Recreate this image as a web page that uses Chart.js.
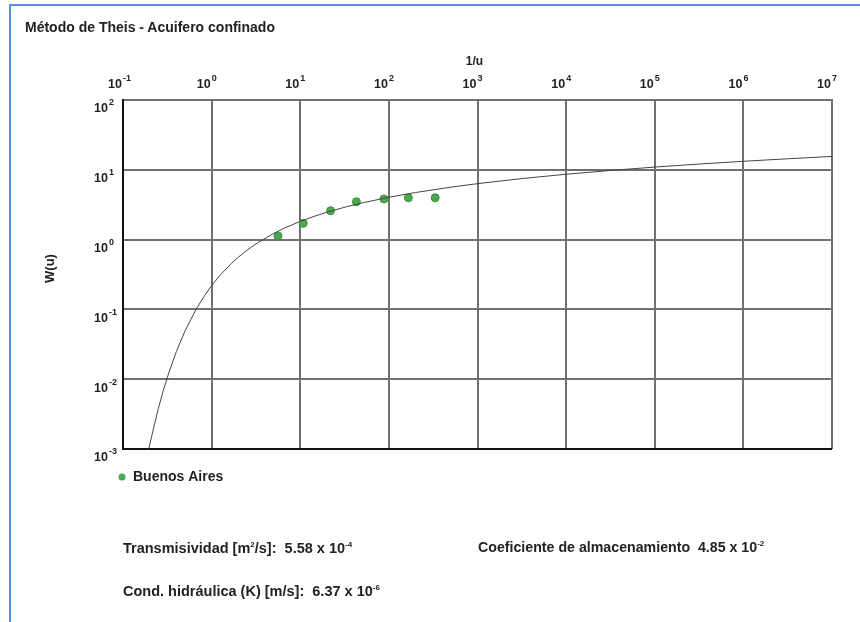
<!DOCTYPE html>
<html>
<head>
<meta charset="utf-8">
<script src="https://cdn.jsdelivr.net/npm/chart.js@4.4.1/dist/chart.umd.min.js"></script>
<style>
  body { margin: 0; width: 860px; height: 622px; position: relative; overflow: hidden; background: #fff;
         font-family: "Liberation Sans", Arial, sans-serif; }
  #frame { position: absolute; left: 9px; top: 4px; right: -10px; bottom: -10px;
           border-top: 2px solid #5b8ee0; border-left: 2px solid #5b8ee0; }
  canvas { position: absolute; left: 0; top: 0; }
  .txt { position: absolute; font-weight: bold; font-size: 14.5px; color: #222; white-space: pre; line-height: 16px; }
  .txt sup { font-size: 8px; vertical-align: 6px; line-height: 0; }
  #title { left: 25px; top: 19px; font-size: 14px; }
</style>
</head>
<body>
<div id="frame"></div>
<canvas id="theis-chart" width="860" height="622"></canvas>
<div id="title" class="txt">Método de Theis - Acuifero confinado</div>
<div class="txt" style="left:123px; top:540px;">Transmisividad [m<sup>2</sup>/s]:  5.58 x 10<sup>-4</sup></div>
<div class="txt" style="left:123px; top:583px;">Cond. hidráulica (K) [m/s]:  6.37 x 10<sup>-6</sup></div>
<div class="txt" style="left:478px; top:539px; font-size:14.2px;">Coeficiente de almacenamiento  4.85 x 10<sup>-2</sup></div>
<script>
var context = document.getElementById("theis-chart").getContext("2d");

// decades shown on the axes
var xTicks = [0.1, 1, 10, 100, 1000, 1e4, 1e5, 1e6, 1e7];
var yTicks = [0.001, 0.01, 0.1, 1, 10, 100];

// Theis type curve W(u) against 1/u
var curveInvU = [0.1667, 0.2, 0.25, 0.2857, 0.3333, 0.4, 0.5, 0.6667, 0.8333, 1, 1.25, 1.667, 2, 2.5,
    3.333, 5, 6.667, 10, 14.29, 20, 33.33, 50, 100, 200, 500, 1000, 3333, 1e4, 3.333e4, 1e5, 3.333e5, 1e6, 3.333e6, 1e7];
var curveW = [0.00036, 0.00115, 0.00378, 0.00697, 0.01305, 0.0249, 0.0489, 0.1, 0.158, 0.219, 0.311, 0.454, 0.56, 0.702,
    0.906, 1.223, 1.465, 1.823, 2.151, 2.468, 2.959, 3.355, 4.038, 4.726, 5.639, 6.332, 7.535, 8.633, 9.837, 10.94, 12.14, 13.24, 14.44, 15.54];

// measured points, Buenos Aires
var pointsInvU = [5.6, 10.8, 22, 43, 88, 166, 333];
var pointsW = [1.13, 1.71, 2.59, 3.49, 3.82, 3.98, 3.98];

var fontFamily = '"Liberation Sans", Arial, sans-serif';

function toXY(xs, ys) {
    return xs.map(function (x, i) {
        return { x: x, y: ys[i] };
    });
}

function decadeTicks(values) {
    return function (scale) {
        scale.ticks = values.map(function (v) {
            return { value: v };
        });
    };
}

// "10" with a raised exponent; (x, y) is the right end of "10"
function drawPower(ctx, exp, x, y) {
    ctx.textBaseline = "middle";
    ctx.textAlign = "right";
    ctx.font = "bold 12.5px " + fontFamily;
    ctx.fillText("10", x, y);
    ctx.textAlign = "left";
    ctx.font = "bold 9px " + fontFamily;
    ctx.fillText(String(exp), x + 1, y - 6);
}

var labelsPlugin = {
    id: "theisLabels",
    afterDraw: function (chart) {
        var ctx = chart.ctx;
        var xScale = chart.scales.x;
        var yScale = chart.scales.y;
        var area = chart.chartArea;
        ctx.save();
        ctx.fillStyle = "#222";

        xTicks.forEach(function (v) {
            drawPower(ctx, Math.round(Math.log10(v)), xScale.getPixelForValue(v) - 1, area.top - 15);
        });
        yTicks.forEach(function (v) {
            drawPower(ctx, Math.round(Math.log10(v)), area.left - 15, yScale.getPixelForValue(v) + 9);
        });

        // axis titles
        ctx.font = "bold 12px " + fontFamily;
        ctx.textAlign = "center";
        ctx.textBaseline = "middle";
        ctx.fillText("1/u", (area.left + area.right) / 2 - 3, area.top - 38);
        ctx.save();
        ctx.translate(50, (area.top + area.bottom) / 2 - 6);
        ctx.rotate(-Math.PI / 2);
        ctx.font = "bold 13px " + fontFamily;
        ctx.fillText("W(u)", 0, 0);
        ctx.restore();

        // legend
        var ds = chart.data.datasets[1];
        ctx.fillStyle = ds.backgroundColor;
        ctx.beginPath();
        ctx.arc(area.left - 1, area.bottom + 28, 3.5, 0, Math.PI * 2);
        ctx.fill();
        ctx.fillStyle = "#222";
        ctx.textAlign = "left";
        ctx.font = "bold 14px " + fontFamily;
        ctx.fillText(ds.label, area.left + 10, area.bottom + 28);
        ctx.restore();
    },
};

var myChart = new Chart(context, {
    type: "scatter",
    data: {
        datasets: [
            {
                label: "W(u)",
                data: toXY(curveInvU, curveW),
                showLine: true,
                borderColor: "#444",
                borderWidth: 1,
                pointRadius: 0,
            },
            {
                label: "Buenos Aires",
                data: toXY(pointsInvU, pointsW),
                backgroundColor: "#4ea64e",
                borderColor: "#3d8f3d",
                borderWidth: 1,
                pointRadius: 4,
            },
        ],
    },
    options: {
        responsive: false,
        animation: false,
        layout: {
            padding: { left: 123, right: 28, top: 100, bottom: 173 },
        },
        plugins: {
            legend: { display: false },
            tooltip: { enabled: false },
        },
        scales: {
            x: {
                type: "logarithmic",
                position: "top",
                min: 0.1,
                max: 1e7,
                afterBuildTicks: decadeTicks(xTicks),
                ticks: { display: false },
                grid: { color: "#707070", lineWidth: 2, drawTicks: false },
                border: { color: "#707070", width: 2 },
            },
            y: {
                type: "logarithmic",
                min: 0.001,
                max: 100,
                afterBuildTicks: decadeTicks(yTicks),
                ticks: { display: false },
                grid: {
                    color: function (c) {
                        return c.tick && c.tick.value === 0.001 ? "#111" : "#707070";
                    },
                    lineWidth: 2,
                    drawTicks: false,
                },
                border: { color: "#111", width: 2 },
            },
        },
    },
    plugins: [labelsPlugin],
});
</script>
</body>
</html>
